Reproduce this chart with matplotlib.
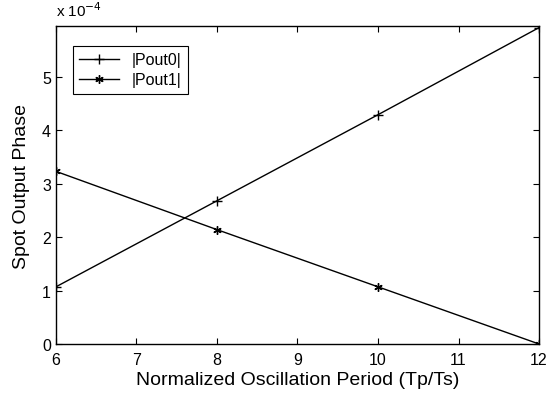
import numpy as np
import matplotlib
matplotlib.use("Agg")
import matplotlib.pyplot as plt

plt.rcParams['font.family'] = ['Liberation Sans', 'DejaVu Sans']

period = [6, 8, 10, 12]
pout0 = [1.07, 2.68, 4.29, 5.92]   # x 1e-4
pout1 = [3.23, 2.14, 1.07, 0.0]    # x 1e-4

fig = plt.figure(figsize=(5.57, 4.02), dpi=100)
ax = fig.add_axes([0.1005, 0.1418, 0.8672, 0.791])

ax.plot(period, pout0, color='k', lw=1.0, marker='+', ms=7, mew=1.0, label='|Pout0|')
ax.plot(period, pout1, color='k', lw=1.0, marker=(6, 2, 0), ms=6, mew=1.0, label='|Pout1|')

ax.set_xlim(6, 12)
ax.set_ylim(0, 5.95)
ax.set_xticks(range(6, 13))
ax.set_yticks(range(0, 6))
ax.tick_params(direction='in', top=True, right=True, labelsize=11.5, length=4, width=0.8)
ax.tick_params(axis='x', pad=6)
for s in ax.spines.values():
    s.set_linewidth(1.0)

ax.set_xlabel('Normalized Oscillation Period (Tp/Ts)', fontsize=14, labelpad=3)
ax.set_ylabel('Spot Output Phase', fontsize=14, labelpad=9)
fig.text(0.1005, 0.95, r'x 10$^{-4}$', fontsize=11, ha='left', va='bottom')

leg = ax.legend(loc='upper left', bbox_to_anchor=(0.018, 0.962), fontsize=11.5,
                fancybox=False, edgecolor='k', framealpha=1, handlelength=2.5,
                borderpad=0.4, labelspacing=0.3)
leg.get_frame().set_linewidth(0.8)

fig.savefig('out.png', dpi=100)
